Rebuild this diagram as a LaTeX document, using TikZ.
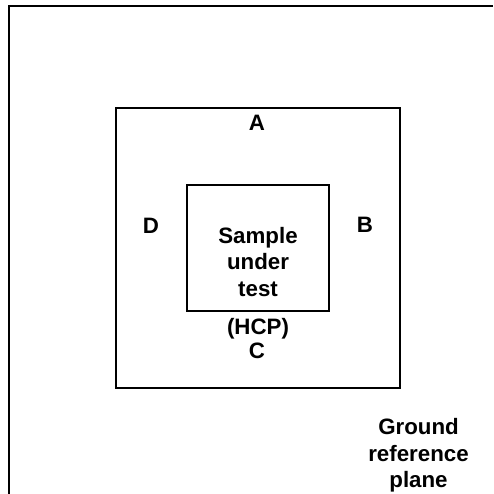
\documentclass[tikz,border=0pt]{standalone}
\usepackage{fontspec}
\setmainfont{Liberation Sans}
\tikzset{lbl/.style={font=\fontsize{22.3pt}{26.4pt}\selectfont\bfseries,align=center,inner sep=0pt},box/.style={draw=black,line width=1.9pt,fill=none}}
\begin{document}
\begin{tikzpicture}[x=1pt,y=-1pt]
\useasboundingbox (0,0) rectangle (493,494);
\draw[box] (9,494) |- (493,6);
\node[box,inner sep=0,anchor=north west,minimum width=284pt,minimum height=280pt] (outer) at (115.2,107.2) {};
\node[box,inner sep=0,anchor=north west,minimum width=142pt,minimum height=126pt] (inner) at (186.2,184.2) {};
\node[lbl] (a) at (257,123) {A};
\node[lbl] (d) at (151,225.5) {D};
\node[lbl] (b) at (365,225) {B};
\node[lbl] (s) at (258,262) {Sample\\under\\test};
\node[lbl] (h) at (258,328.5) {(HCP)};
\node[lbl] (c) at (257,351) {C};
\node[lbl] (g) at (418.5,455.5) {Ground\\reference\\plane};
\end{tikzpicture}
\end{document}
